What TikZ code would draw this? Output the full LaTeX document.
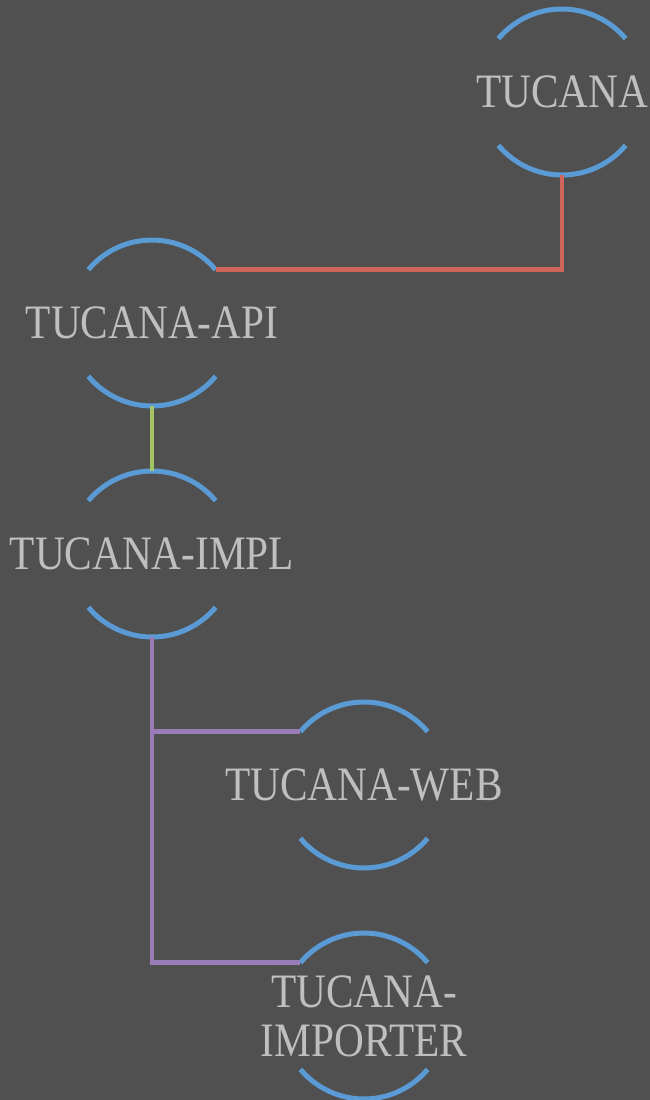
\documentclass[tikz,border=0pt]{standalone}
\usepackage{fontspec}
\setmainfont[FakeStretch=0.86]{Liberation Serif}
\definecolor{bg}{HTML}{505050}
\definecolor{arcblue}{HTML}{5B9BD5}
\definecolor{txtgray}{HTML}{BFBFBF}
\definecolor{linkred}{HTML}{D0655C}
\definecolor{linkgreen}{HTML}{A5C565}
\definecolor{linkpurple}{HTML}{9A7DB8}
\begin{document}
\begin{tikzpicture}[x=1pt,y=1pt,
  modnode/.style={inner sep=0pt,text=txtgray,
    font=\fontsize{48}{49}\selectfont,align=center},
  arcline/.style={draw=arcblue,line width=5pt},
  link/.style={line width=4.5pt}]
\fill[bg] (0,0) rectangle (650,-1100);
\useasboundingbox (0,0) rectangle (650,-1100);
\node[modnode] (tucana) at (562,-92) {TUCANA};
\node[modnode] (api) at (152,-323) {TUCANA-API};
\node[modnode] (impl) at (152,-554) {TUCANA-IMPL};
\node[modnode] (web) at (364,-785) {TUCANA-WEB};
\node[modnode] (imp) at (364,-1016) {TUCANA-\\IMPORTER};
\foreach \n in {tucana,api,impl,web,imp}{
  \coordinate (\n-top) at ([yshift=83pt]\n.center);
  \coordinate (\n-bot) at ([yshift=-83pt]\n.center);
  \coordinate (\n-tr) at ([shift={(40:83pt)}]\n.center);
  \coordinate (\n-tl) at ([shift={(140:83pt)}]\n.center);
  \draw[arcline] (\n-tr) arc[start angle=40,end angle=140,radius=83pt];
  \draw[arcline] ([shift={(220:83pt)}]\n.center) arc[start angle=220,end angle=320,radius=83pt];
}
\draw[link,draw=linkred] (tucana-bot) |- (api-tr);
\draw[link,draw=linkgreen] (api-bot) -- (impl-top);
\draw[link,draw=linkpurple] (impl-bot) |- (web-tl);
\draw[link,draw=linkpurple] (impl-bot) |- (imp-tl);
\end{tikzpicture}
\end{document}
